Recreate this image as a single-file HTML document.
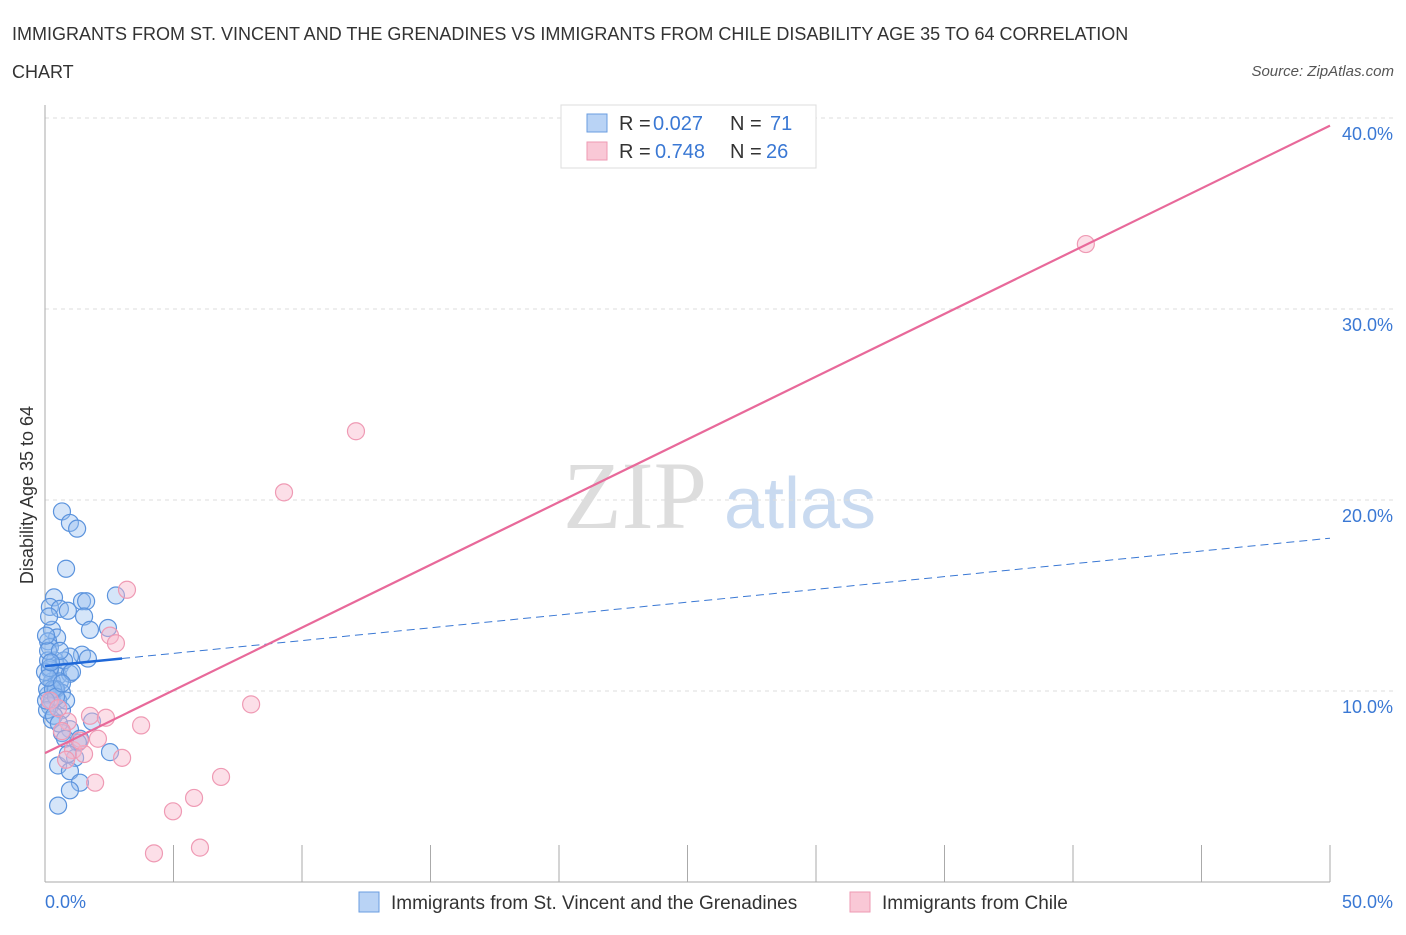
<!DOCTYPE html>
<html><head><meta charset="utf-8"><style>
body{margin:0;background:#fff;font-family:"Liberation Sans",sans-serif}
</style></head><body>
<svg width="1406" height="930" xmlns="http://www.w3.org/2000/svg" id="chart">
<text x="12" y="40" font-size="18" fill="#333">IMMIGRANTS FROM ST. VINCENT AND THE GRENADINES VS IMMIGRANTS FROM CHILE DISABILITY AGE 35 TO 64 CORRELATION</text>
<text x="12" y="78" font-size="18" fill="#333">CHART</text>
<text x="1394" y="76" font-size="15" fill="#555" font-style="italic" text-anchor="end">Source: ZipAtlas.com</text>
<text x="635" y="528" font-size="96" fill="#ddd" font-family="Liberation Serif,serif" text-anchor="middle">ZIP</text>
<text x="800" y="528" font-size="72" fill="#c9daf0" text-anchor="middle">atlas</text>
<g id="grid"></g><g id="axes"></g><g id="marks"></g>
<text x="33" y="495" font-size="18" fill="#333" text-anchor="middle" transform="rotate(-90 33 495)">Disability Age 35 to 64</text>
<g>
<rect x="561" y="105" width="255" height="63" fill="#fff" stroke="#ddd"/>
<rect x="587" y="114" width="20" height="18" fill="#b9d3f5" stroke="#6a9de0"/>
<rect x="587" y="142" width="20" height="18" fill="#f9c8d6" stroke="#ee9ab3"/>
<text x="619" y="130" font-size="20" fill="#333">R =</text>
<text x="653" y="130" font-size="20" fill="#3a78d4">0.027</text>
<text x="730" y="130" font-size="20" fill="#333">N =</text>
<text x="770" y="130" font-size="20" fill="#3a78d4">71</text>
<text x="619" y="158" font-size="20" fill="#333">R =</text>
<text x="655" y="158" font-size="20" fill="#3a78d4">0.748</text>
<text x="730" y="158" font-size="20" fill="#333">N =</text>
<text x="766" y="158" font-size="20" fill="#3a78d4">26</text>
</g>
<g>
<rect x="359" y="892" width="20" height="20" fill="#b9d3f5" stroke="#6a9de0"/>
<text x="391" y="909" font-size="19" fill="#333">Immigrants from St. Vincent and the Grenadines</text>
<rect x="850" y="892" width="20" height="20" fill="#f9c8d6" stroke="#ee9ab3"/>
<text x="882" y="909" font-size="19" fill="#333">Immigrants from Chile</text>
</g>
</svg>
<script>
const xTicks=[0,5,10,15,20,25,30,35,40,45,50];
const yTicks=[10,20,30,40];
const blueX=[0.66,0.97,1.25,0.82,0.35,0.19,0.58,0.89,1.44,1.60,1.52,2.76,1.75,2.45,0.27,0.47,0.12,0.19,1.44,1.67,0.97,0.39,0.58,0.19,0.51,0.97,0.27,0.58,0.39,0.66,0.12,0.51,0.19,0.66,0.27,1.83,0.97,0.66,1.36,1.28,2.53,1.17,0.51,0.97,1.36,0.97,0.51,0.12,0.08,0.27,0,0.12,0.04,0.16,0.43,0.74,0.82,0.19,0.31,0.58,1.05,0.08,0.35,0.54,0.78,0.89,0.12,0.43,0.66,0.23,0.04];
const blueY=[19.4,18.8,18.5,16.4,14.9,14.4,14.3,14.2,14.7,14.7,13.9,15.0,13.2,13.3,13.2,12.8,12.6,12.3,11.9,11.7,11.8,11.6,11.3,11.1,10.8,10.9,10.5,10.5,10.1,9.9,9.8,9.5,9.2,9.0,8.5,8.4,8.0,7.8,7.5,7.3,6.8,6.5,6.1,5.8,5.2,4.8,4.0,11.6,10.1,9.5,11.0,12.1,12.9,13.9,10.1,11.6,9.5,11.2,10.1,12.1,11.0,9.0,8.7,8.3,7.5,6.7,10.7,9.7,10.4,11.5,9.5];
const pinkX=[40.5,12.1,9.3,3.19,2.53,2.76,8.02,3.74,1.75,2.37,0.89,2.06,1.09,1.52,3.00,6.85,1.95,5.80,4.98,6.03,4.24,0.66,1.36,0.19,0.51,0.82];
const pinkY=[33.4,23.6,20.4,15.3,12.9,12.5,9.3,8.2,8.7,8.6,8.4,7.5,6.9,6.7,6.5,5.5,5.2,4.4,3.7,1.8,1.5,7.9,7.4,9.5,9.1,6.4];
const blueFit=[11.3,18.0], pinkFit=[6.75,39.6];
const X=v=>45+v*25.7, Y=v=>882-v*19.1;
const NS="http://www.w3.org/2000/svg";
function mk(p,t,a){const e=document.createElementNS(NS,t);for(const k in a)e.setAttribute(k,a[k]);p.appendChild(e);return e;}
const grid=document.getElementById('grid'),axes=document.getElementById('axes'),marks=document.getElementById('marks');
yTicks.forEach(t=>{
 const l=mk(grid,'line',{x1:45,x2:1394,y1:Y(t),y2:Y(t),stroke:'#ddd','stroke-dasharray':'4,4'});
 
 
 const tx=mk(axes,'text',{x:1393,y:Y(t)+22,'font-size':18,fill:'#3a78d4','text-anchor':'end'});tx.textContent=t.toFixed(1)+'%';
 
 
});
const ax=mk(axes,'line',{x1:45,x2:1330,y1:882,y2:882,stroke:'#aaa'});


const ay=mk(axes,'line',{x1:45,x2:45,y1:105,y2:882,stroke:'#aaa'});


xTicks.forEach(t=>{
 const l=mk(axes,'line',{x1:X(t),x2:X(t),y1:845,y2:882,stroke:'#aaa'});
 
 
});
[[0,'0.0%',45,'start'],[50,'50.0%',1393,'end']].forEach(d=>{
 const tx=mk(axes,'text',{x:d[2],y:908,'font-size':18,fill:'#3a78d4','text-anchor':d[3]});tx.textContent=d[1];
 
 
});
blueX.forEach((x,i)=>{
 const c=mk(marks,'circle',{cx:X(x),cy:Y(blueY[i]),r:8.5,fill:'rgba(150,190,240,0.4)',stroke:'#5b93dd','stroke-width':1.2});
 
 
});
pinkX.forEach((x,i)=>{
 const c=mk(marks,'circle',{cx:X(x),cy:Y(pinkY[i]),r:8.5,fill:'rgba(248,185,205,0.45)',stroke:'#ef9ab4','stroke-width':1.2});
 
 
});
const bs=(v)=>blueFit[0]+(blueFit[1]-blueFit[0])*v/50;
const l1=mk(marks,'line',{x1:X(3),y1:Y(bs(3)),x2:X(50),y2:Y(bs(50)),stroke:'#3a78d4','stroke-width':1,'stroke-dasharray':'8,5'});


const l2=mk(marks,'line',{x1:X(0),y1:Y(bs(0)),x2:X(3),y2:Y(bs(3)),stroke:'#1f68d8','stroke-width':2.5});


const l3=mk(marks,'line',{x1:X(0),y1:Y(pinkFit[0]),x2:X(50),y2:Y(pinkFit[1]),stroke:'#e8699a','stroke-width':2.2});


</script>
</body></html>
